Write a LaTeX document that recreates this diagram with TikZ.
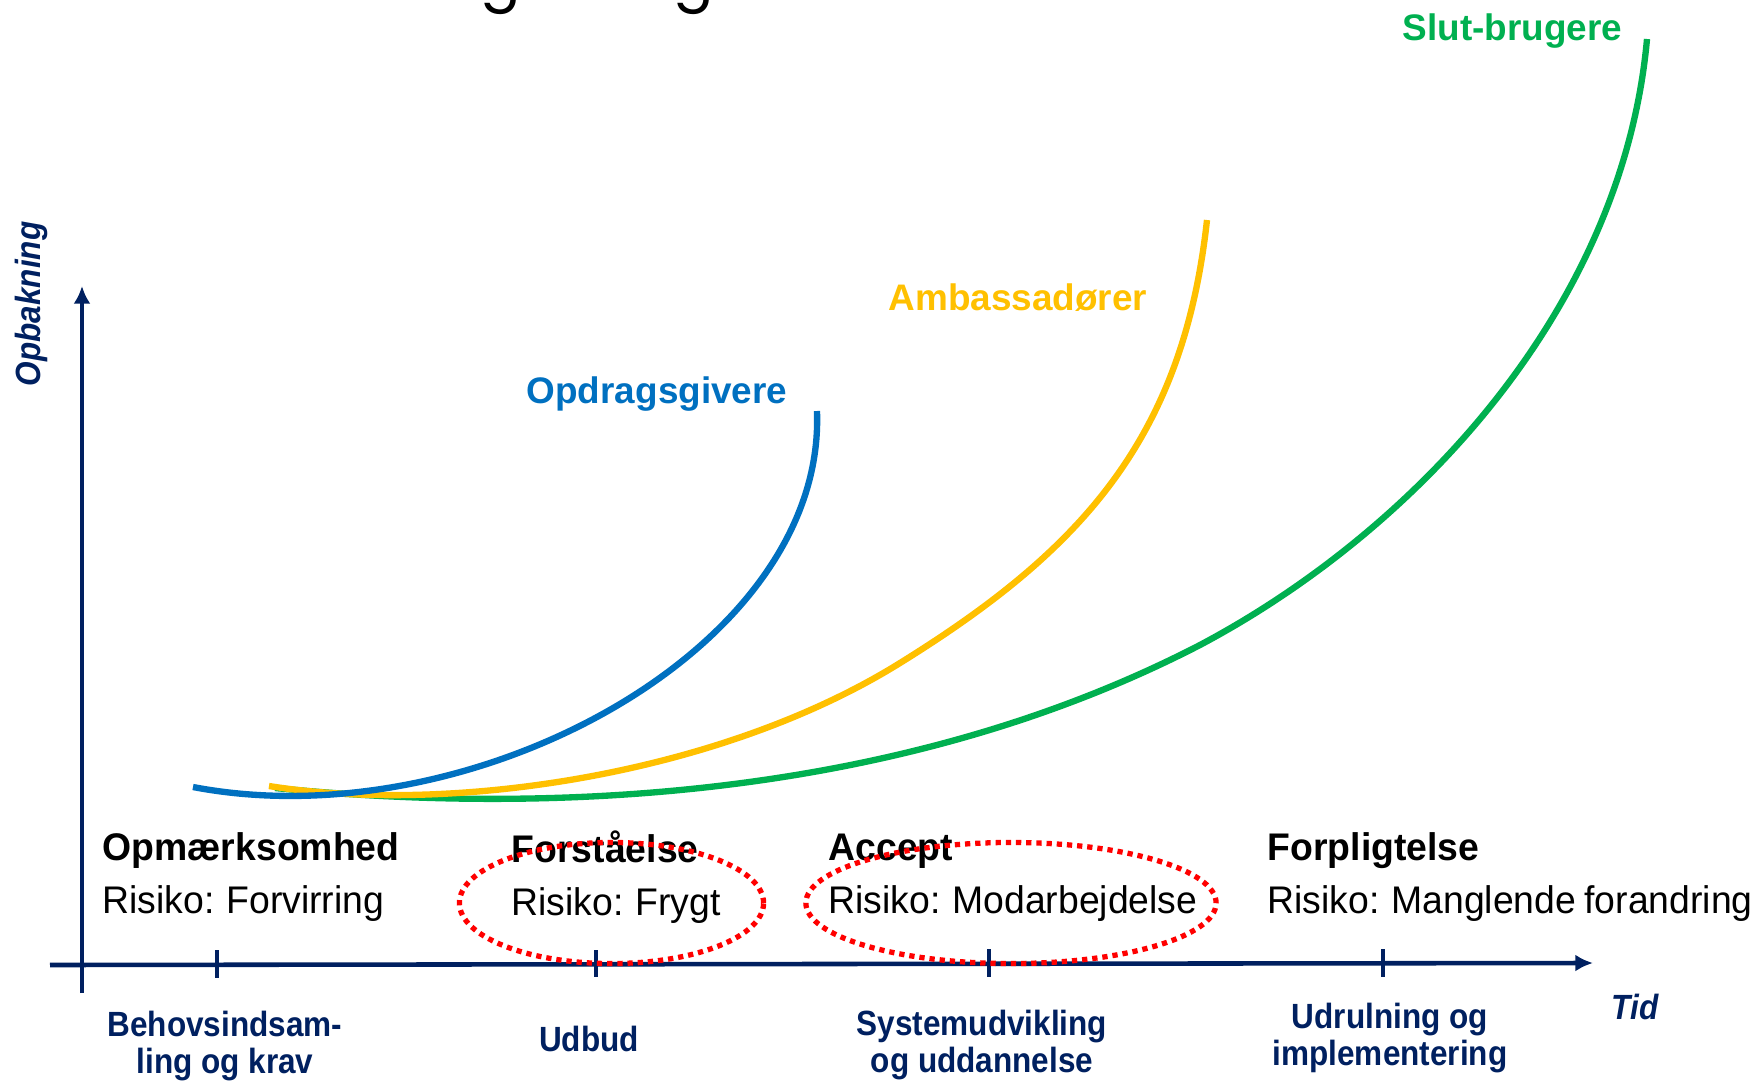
\documentclass[tikz,border=0pt]{standalone}
\usepackage{fontspec}
\setmainfont{Liberation Sans}
\newfontfamily\txtfont{Liberation Sans}[FakeStretch=0.97, WordSpace=0.8]
\newfontfamily\narfont{Liberation Sans}[FakeStretch=0.9]
\newfontfamily\titlefont{Poppins}
\usetikzlibrary{arrows.meta}
\definecolor{navy}{HTML}{002060}
\definecolor{cblue}{HTML}{0070C0}
\definecolor{cyellow}{HTML}{FFC000}
\definecolor{cgreen}{HTML}{00B050}
\definecolor{cred}{HTML}{FF0000}
\begin{document}
\begin{tikzpicture}[x=0.01cm,y=-0.01cm,
  axis/.style={navy, line width=1.3pt},
  curve/.style={line width=1.8pt, line cap=butt},
  stage/.style={anchor=base west, inner sep=0pt, font=\txtfont\bfseries\fontsize{10.95}{13}\selectfont},
  risk/.style={anchor=base west, inner sep=0pt, font=\txtfont\fontsize{10.95}{13}\selectfont},
  phase/.style={navy, align=center, inner sep=0pt, anchor=base, font=\narfont\bfseries\fontsize{9.96}{10.5}\selectfont},
  riskring/.style={cred, line width=1.5pt, dash pattern=on 1.5pt off 1.4pt},
  clabel/.style={anchor=base west, inner sep=0pt, font=\bfseries\fontsize{10.5}{12}\selectfont},
  titleg/.style={anchor=base, inner sep=0pt, font=\titlefont\fontsize{17}{20}\selectfont}
]
\useasboundingbox (0,0) rectangle (1756,1081);
\clip (0,0) rectangle (1756,1081);

% cut-off title remnants
\node[titleg] (tg1) at (501,-2) {g};
\node[titleg] (tg2) at (694,-2) {g};

% curves (green under yellow under blue)
\draw[curve, cgreen] (275,788) .. controls (550,815) and (900,800) .. (1200,645)
                              .. controls (1415,531) and (1622.7,309) .. (1647,39);
\draw[curve, cyellow] (269,786) .. controls (450,815) and (720,775) .. (900,663)
                              .. controls (1080,551.4) and (1183,440) .. (1207,220);
\draw[curve, cblue] (193,787) .. controls (470,840) and (826,650) .. (817,411);

% curve labels
\node[clabel, cblue] (lop) at (526,403) {Opdragsgivere};
\node[clabel, cyellow] (lamb) at (888,310) {Ambassadører};
\node[clabel, cgreen] (lslut) at (1402,40) {Slut-brugere};

% axes
\coordinate (xs) at (50,965);
\coordinate (xe) at (1593,963);
\coordinate (ys) at (82,993);
\coordinate (ye) at (82,286);
\draw[axis, -{Latex[length=5pt,width=4.8pt]}] (xs) -- (xe);
\draw[axis, -{Latex[length=5pt,width=4.8pt]}] (ys) -- (ye);
\draw[axis] (217,950) -- (217,978);
\draw[axis] (596,950) -- (596,977);
\draw[axis] (989,949) -- (989,977);
\draw[axis] (1383,949) -- (1383,977);

\node[navy, inner sep=0pt, rotate=90, font=\narfont\bfseries\itshape\fontsize{9.96}{12}\selectfont] (yl) at (31,304) {Opbakning};
\node[navy, anchor=base west, inner sep=0pt, font=\narfont\bfseries\itshape\fontsize{9.96}{12}\selectfont] (xl) at (1611,1019) {Tid};

% stages
\node[stage] (s1) at (102,860) {Opmærksomhed};
\node[risk] (r1) at (102,913) {Risiko: Forvirring};
\node[stage] (s2) at (511,862) {Forståelse};
\node[risk] (r2) at (511,915) {Risiko: Frygt};
\node[stage] (s3) at (828,860) {Accept};
\node[risk] (r3) at (828,913) {Risiko: Modarbejdelse};
\node[stage] (s4) at (1267,860) {Forpligtelse};
\node[risk] (r4) at (1267,913) {Risiko: Manglende forandring};

% risk rings
\draw[riskring] (611.5,903) ellipse [x radius=1.52cm, y radius=0.605cm];
\draw[riskring] (1011,903) ellipse [x radius=2.05cm, y radius=0.605cm];

% phases (anchor=base is the baseline of the last line)
\node[phase] (p1) at (225,1073) {Behovsindsam-\\ling og krav};
\node[phase] (p2) at (589,1051) {Udbud};
\node[phase] (p3) at (982,1072) {Systemudvikling\\og uddannelse};
\node[phase] (p4) at (1390,1065) {Udrulning og\\implementering};
\end{tikzpicture}
\end{document}
